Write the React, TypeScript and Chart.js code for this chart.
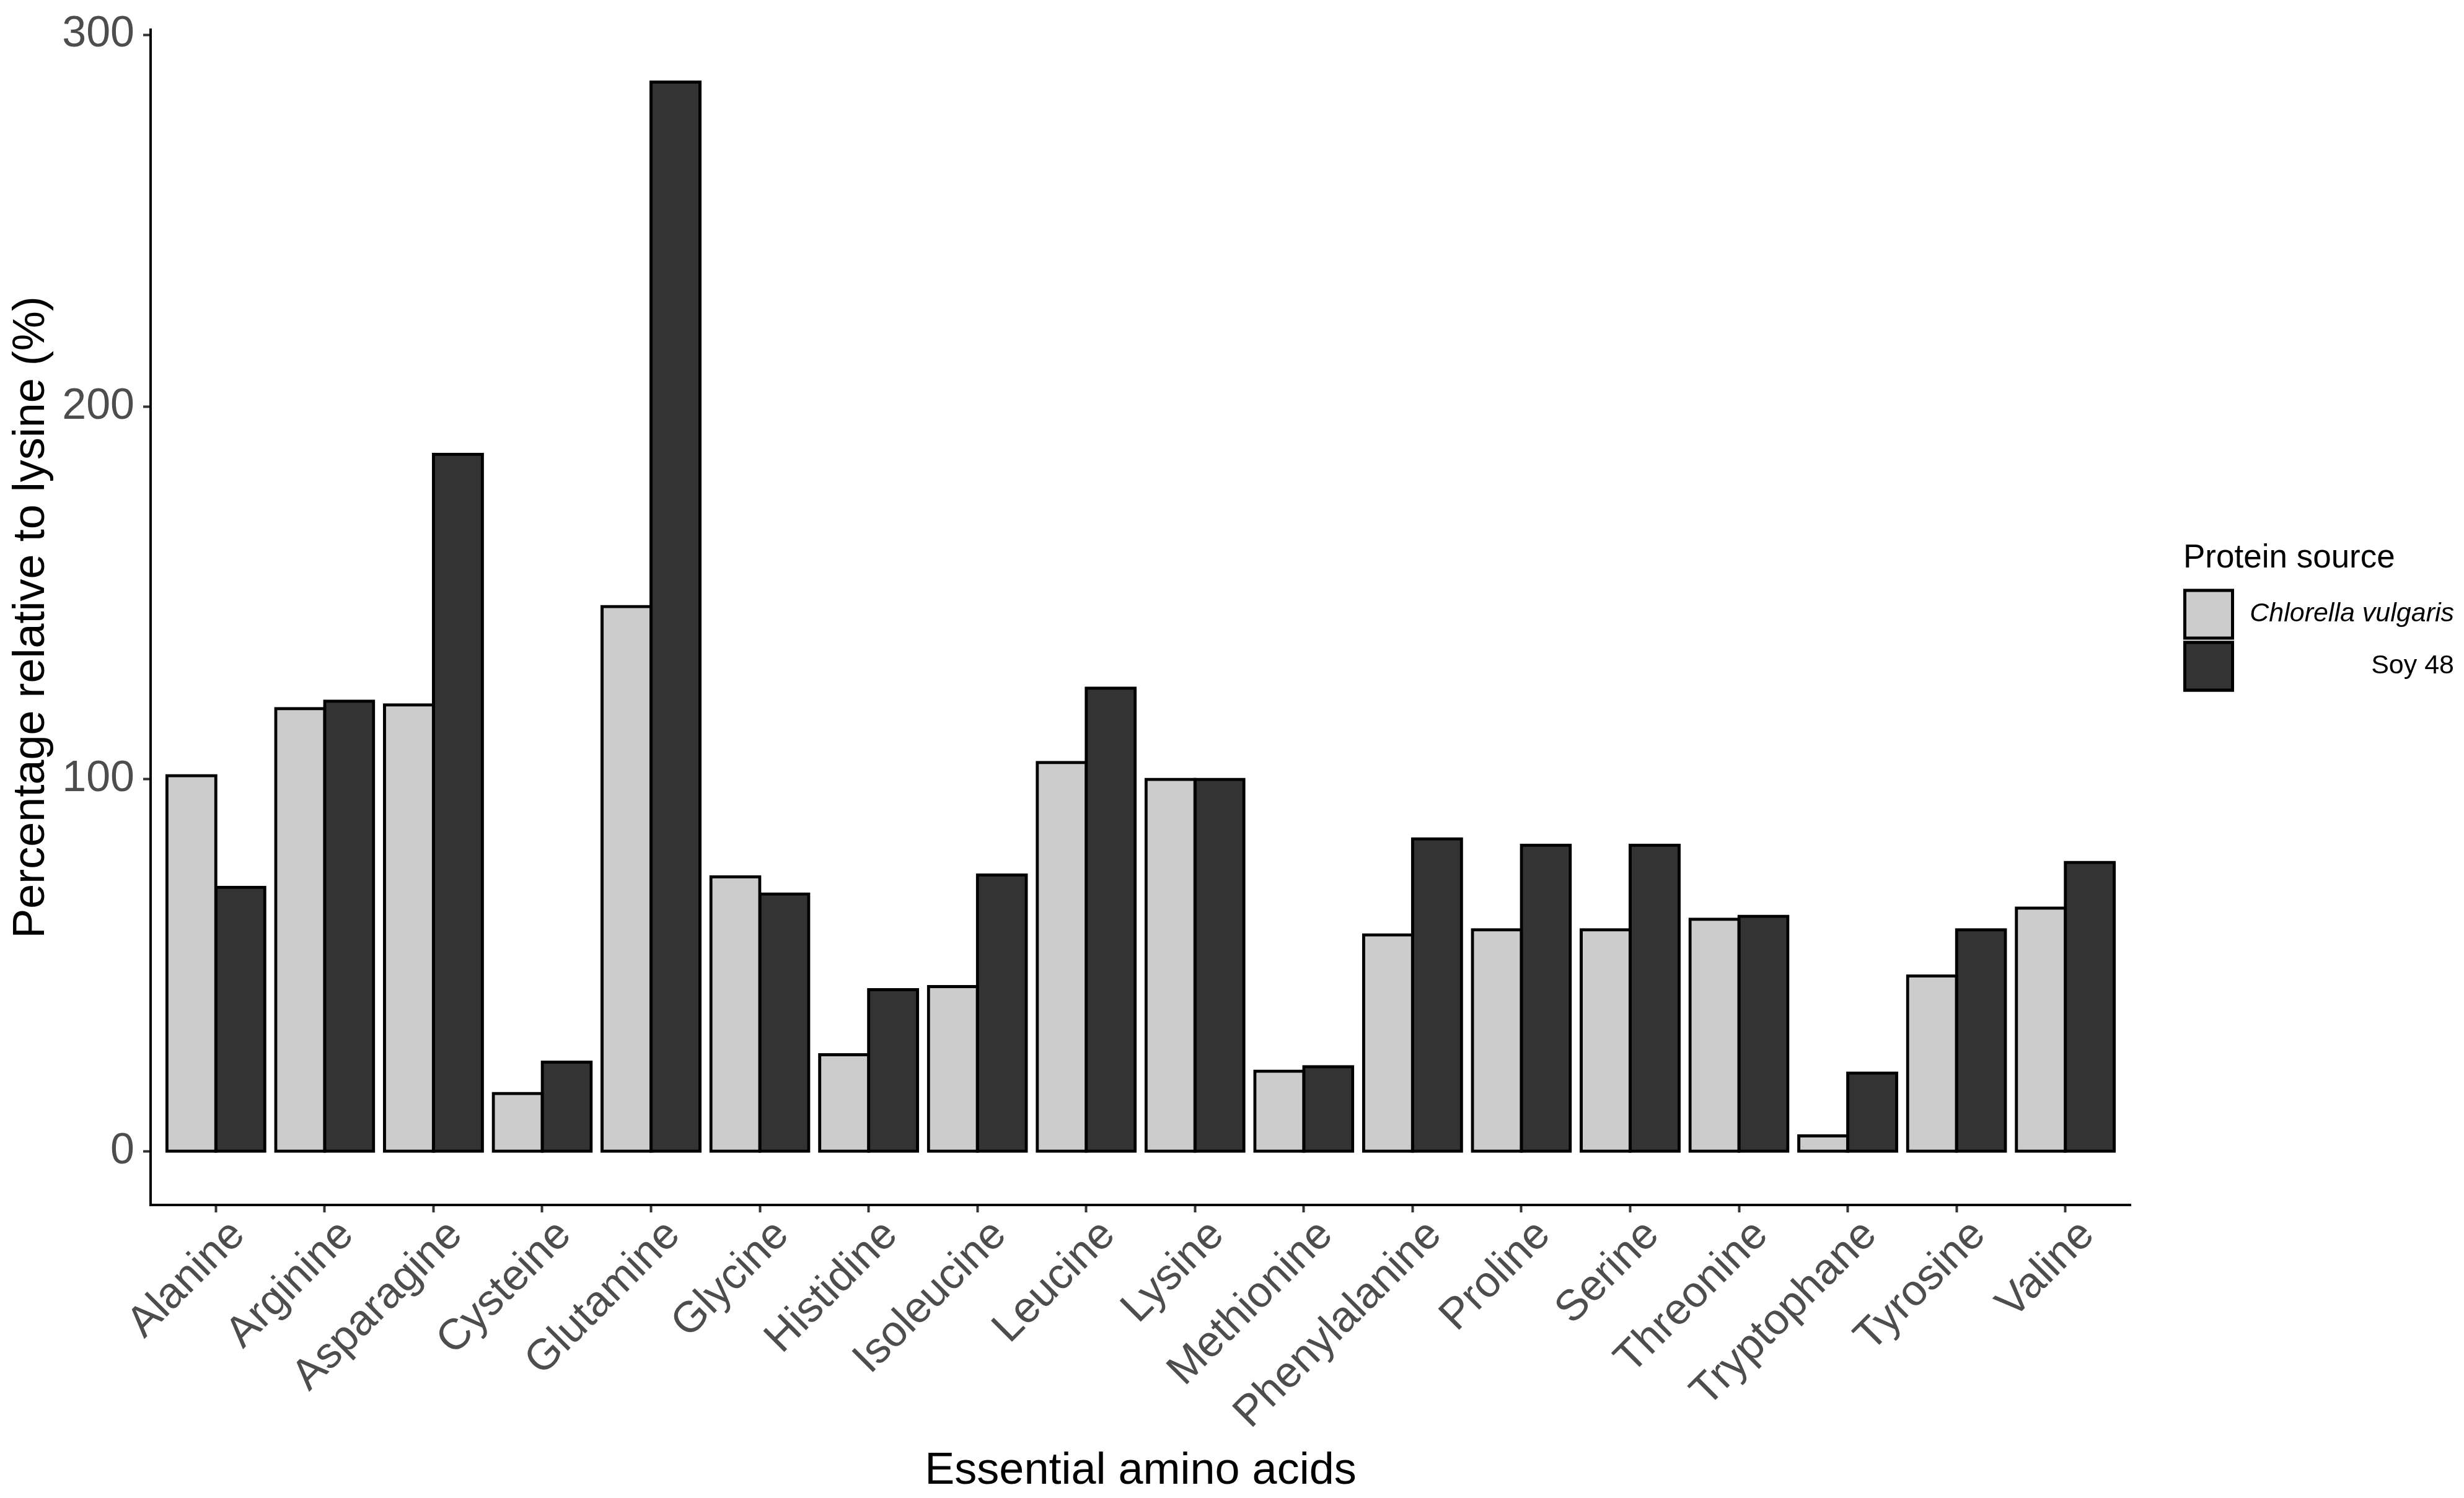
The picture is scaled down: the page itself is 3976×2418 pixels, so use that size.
import React, { useEffect, useRef } from 'react';
import { Chart, registerables } from 'chart.js';

Chart.register(...registerables);

const categories = [
  'Alanine', 'Arginine', 'Asparagine', 'Cysteine', 'Glutamine', 'Glycine',
  'Histidine', 'Isoleucine', 'Leucine', 'Lysine', 'Methionine', 'Phenylalanine',
  'Proline', 'Serine', 'Threonine', 'Tryptophane', 'Tyrosine', 'Valine',
];
const chlorellaValues = [101, 119, 120, 15.6, 146.4, 73.8, 26, 44.3, 104.5, 100, 21.6, 58.2, 59.6, 59.6, 62.4, 4.2, 47.2, 65.4];
const soyValues = [71, 121, 187.3, 24, 287.3, 69.2, 43.5, 74.3, 124.5, 100, 22.8, 84, 82.3, 82.3, 63.2, 21.1, 59.6, 77.7];
const seriesNames = ['Chlorella vulgaris', 'Soy 48'];
const seriesColors = ['#CCCCCC', '#333333'];
const yTicks = [0, 100, 200, 300];
const legendTitle = 'Protein source';
const xTitle = 'Essential amino acids';
const yTitle = 'Percentage relative to lysine (%)';

const FONT = '"Liberation Sans", Arial, Helvetica, sans-serif';

const legendPlugin = {
  id: 'ggLegend',
  afterDraw(chart: any) {
    const ctx = chart.ctx;
    const area = chart.chartArea;
    const x0 = area.right + 85;
    const midY = (area.top + area.bottom) / 2;
    const top = midY - 126;
    ctx.save();
    ctx.fillStyle = '#000';
    ctx.font = `53px ${FONT}`;
    ctx.textAlign = 'left';
    ctx.textBaseline = 'alphabetic';
    ctx.fillText(legendTitle, x0, top + 45);
    const keyW = 82;
    const keyH = 82;
    chart.data.datasets.forEach((ds: any, i: number) => {
      const ky = top + 80 + i * 84;
      ctx.fillStyle = ds.backgroundColor;
      ctx.fillRect(x0, ky, keyW, keyH);
      ctx.lineWidth = 5;
      ctx.strokeStyle = '#000';
      ctx.strokeRect(x0 + 2.5, ky + 2.5, keyW - 5, keyH - 5);
      ctx.fillStyle = '#000';
      ctx.font = `${i === 0 ? 'italic ' : ''}43px ${FONT}`;
      ctx.textAlign = 'right';
      ctx.textBaseline = 'middle';
      ctx.fillText(ds.label, x0 + 437, ky + keyH / 2);
    });
    ctx.restore();
  },
};

export default function App() {
  const canvasRef = useRef<HTMLCanvasElement | null>(null);

  useEffect(() => {
    if (!canvasRef.current) return;
    const datasets = [chlorellaValues, soyValues].map((vals, si) => ({
      label: seriesNames[si],
      data: vals.map((v, i) => ({ x: i + 1, y: v })),
      backgroundColor: seriesColors[si],
      borderColor: '#000000',
      borderWidth: 5,
      borderSkipped: false,
      inflateAmount: 2.5,
      categoryPercentage: 0.9,
      barPercentage: 1.0,
    }));

    const chart = new Chart(canvasRef.current, {
      type: 'bar',
      data: { datasets },
      plugins: [legendPlugin],
      options: {
        animation: false,
        responsive: true,
        maintainAspectRatio: false,
        devicePixelRatio: 1,
        layout: { padding: { left: 0, top: 48, right: 538, bottom: 0 } },
        plugins: {
          legend: { display: false },
          tooltip: { enabled: false },
        },
        scales: {
          x: {
            type: 'linear',
            min: 0.4,
            max: 18.6,
            offset: false,
            afterBuildTicks: (axis: any) => {
              axis.ticks = categories.map((_, i) => ({ value: i + 1 }));
            },
            afterFit: (axis: any) => {
              axis.height = 473;
              axis.paddingLeft = 0;
              axis.paddingRight = 0;
            },
            ticks: {
              autoSkip: false,
              minRotation: 45,
              maxRotation: 45,
              color: '#4D4D4D',
              padding: -4,
              labelOffset: 36,
              font: { family: FONT, size: 70 },
              callback: (value: any) => categories[Math.round(value) - 1] ?? '',
            },
            grid: {
              display: true,
              offset: false,
              drawOnChartArea: false,
              drawTicks: true,
              tickLength: 12,
              tickWidth: 4,
              tickColor: '#333333',
            },
            border: { display: true, color: '#000000', width: 4 },
            title: {
              display: true,
              text: xTitle,
              color: '#000000',
              font: { family: FONT, size: 72 },
              padding: { top: 0, bottom: 0 },
            },
          },
          y: {
            type: 'linear',
            min: -14.35,
            max: 301.35,
            afterBuildTicks: (axis: any) => {
              axis.ticks = yTicks.map((v) => ({ value: v }));
            },
            afterFit: (axis: any) => {
              axis.width = 243;
              axis.paddingTop = 0;
              axis.paddingBottom = 0;
            },
            ticks: {
              color: '#4D4D4D',
              padding: 14,
              font: { family: FONT, size: 70 },
            },
            grid: {
              display: true,
              drawOnChartArea: false,
              drawTicks: true,
              tickLength: 12,
              tickWidth: 4,
              tickColor: '#333333',
            },
            border: { display: true, color: '#000000', width: 4 },
            title: {
              display: true,
              text: yTitle,
              color: '#000000',
              font: { family: FONT, size: 72 },
              padding: { top: 8, bottom: 0 },
            },
          },
        },
      },
    } as any);

    return () => {
      chart.destroy();
    };
  }, []);

  return (
    <div style={{ position: 'fixed', left: 0, top: 0, width: '3976px', height: '2418px', background: '#ffffff' }}>
      <canvas ref={canvasRef} />
    </div>
  );
}
